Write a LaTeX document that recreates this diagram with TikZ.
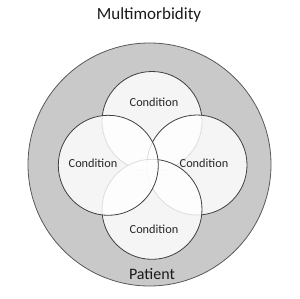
\documentclass[tikz,border=0pt]{standalone}
\usepackage{fontspec}
\setmainfont{Carlito}
\begin{document}
\begin{tikzpicture}[x=1pt,y=-1pt,
  lbl/.style={text=black!85, font=\fontsize{12.3}{14}\selectfont},
  cond/.style={circle, draw=black!75, line width=0.8pt, fill=white, fill opacity=0.82, minimum size=100pt, inner sep=0pt}]
\useasboundingbox (0,0) rectangle (300,298);
\node[circle, draw=black!65, line width=0.8pt, fill=black!21, minimum size=243pt, inner sep=0pt] (patientc) at (149.5,164.5) {};
\node[cond] (top) at (152,121.5) {};
\node[cond] (right) at (197,165) {};
\node[cond] (bottom) at (152,209.3) {};
\node[cond] (left) at (108.3,165.3) {};
\node[lbl] (ttop) at (154,102.7) {Condition};
\node[lbl] (tleft) at (93,163.5) {Condition};
\node[lbl] (tright) at (204,163.5) {Condition};
\node[lbl] (tbottom) at (154,229) {Condition};
\node[text=black!90, font=\fontsize{16}{18}\selectfont] (patient) at (152,274) {Patient};
\node[text=black!90, font=\fontsize{17}{20}\selectfont] (title) at (149,15) {Multimorbidity};
\end{tikzpicture}
\end{document}
